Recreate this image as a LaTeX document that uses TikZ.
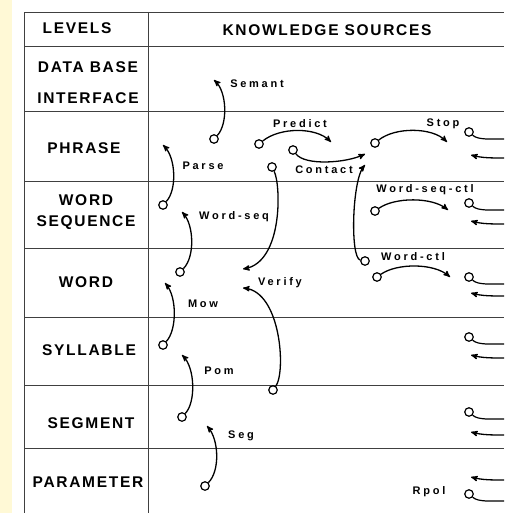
\documentclass[tikz,border=0pt]{standalone}
\usepackage{fontspec}
\setmainfont{Liberation Sans}
\newfontfamily\lvfont[LetterSpace=11]{Liberation Sans Bold}
\newfontfamily\ksfont[LetterSpace=25]{Liberation Sans Bold}
\usepackage{tikz}
\usetikzlibrary{arrows}
\definecolor{strip}{RGB}{255,249,214}
\tikzstyle{grid}=[black!75,line width=0.8pt]
\tikzstyle{level}=[font=\lvfont\fontsize{15.5}{18}\selectfont,align=center,inner sep=0pt]
\tikzstyle{lbl}=[font=\ksfont\fontsize{11}{13}\selectfont,inner sep=0pt]
\tikzstyle{src}=[circle,draw,line width=1.2pt,inner sep=0pt,minimum size=8.5pt]
\tikzstyle{ks}=[->,>=stealth',line width=1.3pt]
\tikzstyle{feed}=[line width=1.2pt]

\begin{document}
\begin{tikzpicture}[x=1pt,y=-1pt]
\useasboundingbox (0,0) rectangle (504,513);
\fill[strip] (0,0) rectangle (12,513);
% the table
\draw[grid] (24,513) -- (24,12) -- (504,12);
\draw[grid] (148,12) -- (148,513);
\foreach \y in {46,111,181,248,317,385,448}
  \draw[grid] (24,\y) -- (504,\y);
% levels
\node[level] (lev) at (77,28) {LEVELS};
\node[level] (kns) at (327,30) {KNOWLEDGE SOURCES};
\node[level] (dbi) at (88,83) {DATA BASE\\[13pt]INTERFACE};
\node[level] (phr) at (84,148) {PHRASE};
\node[level] (wsq) at (86,212) {WORD\\[3pt]SEQUENCE};
\node[level] (wrd) at (86,282) {WORD};
\node[level] (syl) at (89,350) {SYLLABLE};
\node[level] (sgm) at (91,423) {SEGMENT};
\node[level] (par) at (88,482) {PARAMETER};
% knowledge sources, bottom-up
\node[src] (semA) at (214,139) {};
\coordinate (semB) at (214,80);
\draw[ks] (semA) .. controls (228,124) and (227,92) .. (semB);
\node[lbl] (sem) at (257,84) {Semant};
\node[src] (parA) at (163,205) {};
\coordinate (parB) at (163,145);
\draw[ks] (parA) .. controls (177,190) and (176,158) .. (parB);
\node[lbl] (prs) at (203,166) {Parse};
\node[src] (wsqA) at (180,272) {};
\coordinate (wsqB) at (182,212);
\draw[ks] (wsqA) .. controls (195,257) and (194,225) .. (wsqB);
\node[lbl] (wsqL) at (234,217) {Word-seq};
\node[src] (mowA) at (163,345) {};
\coordinate (mowB) at (165,283);
\draw[ks] (mowA) .. controls (177,330) and (177,297) .. (mowB);
\node[lbl] (mow) at (203,304) {Mow};
\node[src] (pomA) at (182,417) {};
\coordinate (pomB) at (182,355);
\draw[ks] (pomA) .. controls (196,402) and (195,368) .. (pomB);
\node[lbl] (pom) at (219,371) {Pom};
\node[src] (segA) at (205,486) {};
\coordinate (segB) at (207,426);
\draw[ks] (segA) .. controls (220,471) and (219,440) .. (segB);
\node[lbl] (seg) at (241,436) {Seg};
% verify, from both sides
\node[src] (verA) at (272,167) {};
\coordinate (verB) at (243,269);
\draw[ks] (verA) .. controls (281,185) and (283,262) .. (verB);
\node[src] (verC) at (273,390) {};
\coordinate (verD) at (243,288);
\draw[ks] (verC) .. controls (286,372) and (281,292) .. (verD);
\node[lbl] (ver) at (280,283) {Verify};
% phrase level
\node[src] (preA) at (259,144) {};
\coordinate (preB) at (331,142);
\draw[ks] (preA) .. controls (280,127) and (316,127) .. (preB);
\node[lbl] (pre) at (300,124) {Predict};
\node[src] (conA) at (293,150) {};
\coordinate (conB) at (365,154);
\draw[ks] (conA) .. controls (305,166) and (346,163) .. (conB);
\node[lbl] (con) at (324,170) {Contact};
\node[src] (stpA) at (375,143) {};
\coordinate (stpB) at (447,142);
\draw[ks] (stpA) .. controls (395,127) and (432,127) .. (stpB);
% control sources
\node[src] (wscA) at (375,211) {};
\coordinate (wscB) at (448,210);
\draw[ks] (wscA) .. controls (395,197) and (432,197) .. (wscB);
\node[lbl] (wsc) at (425,190) {Word-seq-ctl};
\node[src] (wctA) at (365,261) {};
\coordinate (wctB) at (365,165);
\draw[ks] (wctA) .. controls (350,258) and (352,180) .. (wctB);
\node[src] (wctC) at (377,277) {};
\coordinate (wctD) at (450,277);
\draw[ks] (wctC) .. controls (397,263) and (434,263) .. (wctD);
\node[lbl] (wct) at (413,257) {Word-ctl};
% links to the right-hand side
\foreach \n/\cy/\ry in {phr/132/155,wsq/203/221,wrd/277/293,syl/337/355,sgm/412/432,par/494/477} {
  \node[src] (\n O) at (469,\cy) {};
  \coordinate (\n E) at (504,\cy+7);
  \draw[feed] (\n O) .. controls (478,\cy+8) and (490,\cy+7) .. (\n E);
  \coordinate (\n R) at (504,\ry+3);
  \coordinate (\n T) at (471,\ry);
  \draw[ks] (\n R) .. controls (492,\ry+3) and (482,\ry+3) .. (\n T);
}
\node[lbl] (stp) at (443,124) {Stop};
\node[lbl] (rpl) at (429,492) {Rpol};
\end{tikzpicture}
\end{document}
